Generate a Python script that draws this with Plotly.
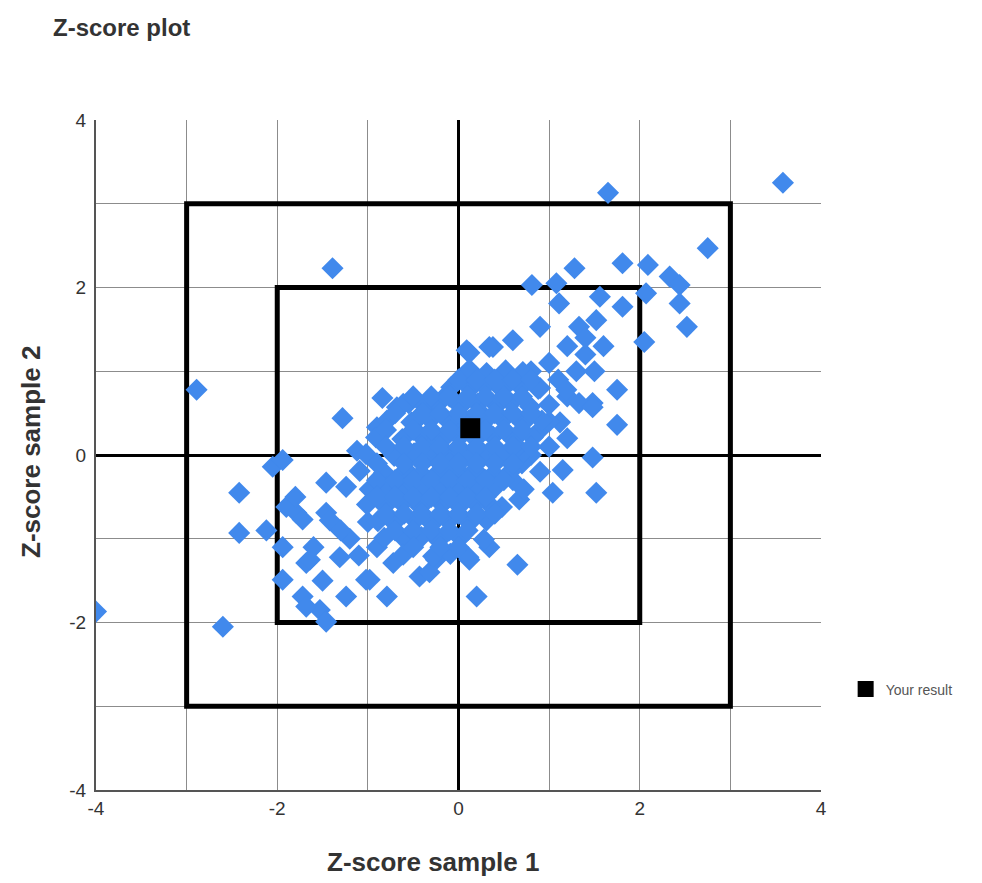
import plotly.graph_objects as go

# ---- data ----
lab_x = [
    # upper-right tail
    1.65, 3.58, 2.75, 1.28, 1.81, 2.09, 2.33, 2.44, 0.81, 1.08, 2.44, 2.52, 2.05, 2.07,
    1.81, 1.56, 1.11, 1.33, 1.52, 0.90, 0.60, 0.38, 0.12, 1.75, 1.48, 1.75, 1.12, 1.48,
    1.15, 1.52, 1.04, 0.67, 1.20, 1.40, 1.30, 1.00, 0.80, 1.10, 0.90, 1.40, 1.60, 1.50,
    0.70, 1.00, 0.80, 1.20, 0.90, 1.00, 0.80, 0.90, 0.60, 0.70, 1.20, 1.00, 1.33, 1.19,
    1.48, 0.34, 0.09,
    # lower / left tail
    -2.89, -1.28, -4.00, -2.60, -2.42, -2.05, -1.94, -2.42, -2.12, -1.90, -1.79, -1.72,
    -1.46, -1.24, -1.46, -1.94, -1.94, -1.68, -1.72, -1.53, -1.46, -1.24, -1.31, -1.02,
    -0.79, -1.42, -1.64, -1.20, -1.00, -1.30, -1.10, -0.90, -1.50, -1.60, -1.80, -1.39,
    0.20, 0.65, 0.34, 0.12, -0.98, -1.68, -0.43, -0.72, -0.25, -0.68, -0.46, -0.90,
    -0.84, -0.55, -0.32, -1.12, -0.32,
    # dense core
    0.12, 0.31, 0.52, 0.71,
    -0.08, 0.13, 0.29, 0.48, 0.69, 0.88,
    -0.61, -0.38, -0.22, 0.02, 0.21, 0.42, 0.58, 0.79,
    -0.79, -0.52, -0.31, -0.09, 0.11, 0.28, 0.49, 0.71, 0.92,
    -0.91, -0.62, -0.41, -0.18, 0.01, 0.19, 0.38, 0.61, 0.82,
    -1.02, -0.71, -0.49, -0.28, -0.12, 0.09, 0.32, 0.51, 0.69,
    -1.09, -0.82, -0.58, -0.41, -0.21, 0.02, 0.18, 0.39, 0.58,
    -0.98, -0.79, -0.61, -0.38, -0.19, -0.02, 0.22, 0.41, 0.72,
    -1.01, -0.81, -0.62, -0.42, -0.18, 0.01, 0.19, 0.48,
    -0.89, -0.71, -0.48, -0.29, -0.11, 0.12, 0.31,
    -0.82, -0.59, -0.41, -0.22, 0.02, 0.28,
    -0.61, -0.28, -0.09, 0.11,
    -0.30, -0.10, 0.05, 0.25, 0.45, 0.55, -0.55, -0.15, 0.35, 0.65,
    # dense core, second layer
    0.00, 0.20, 0.40, 0.60, 0.80,
    -0.50, -0.30, -0.10, 0.10, 0.30, 0.50, 0.70,
    -0.70, -0.40, -0.20, 0.00, 0.20, 0.40, 0.60, 0.80,
    -0.80, -0.50, -0.30, -0.10, 0.10, 0.30, 0.50, 0.70,
    -0.80, -0.60, -0.40, -0.20, 0.00, 0.20, 0.40, 0.60, 0.80,
    -0.90, -0.60, -0.40, -0.20, 0.00, 0.20, 0.40, 0.60,
    -0.90, -0.70, -0.50, -0.30, -0.10, 0.10, 0.30, 0.50,
    -0.90, -0.70, -0.50, -0.30, -0.10, 0.10, 0.30,
    -0.80, -0.60, -0.40, -0.20, 0.00, 0.20, 0.40,
    -0.70, -0.50, -0.30, -0.10, 0.10,
    -0.50, -0.20, 0.00,
]
lab_y = [
    3.13, 3.25, 2.47, 2.23, 2.29, 2.27, 2.13, 2.03, 2.03, 2.05, 1.81, 1.53, 1.35, 1.93,
    1.77, 1.89, 1.81, 1.53, 1.61, 1.53, 1.37, 1.29, 1.22, 0.78, 0.62, 0.36, 0.39, -0.03,
    -0.18, -0.45, -0.45, -0.53, 1.30, 1.20, 1.00, 1.10, 1.00, 0.90, 0.80, 1.40, 1.30, 1.00,
    0.90, 0.60, 0.50, 0.70, 0.30, 0.10, 0.00, -0.20, -0.30, -0.10, 0.20, 0.40, 0.62, 0.78,
    0.57, 1.29, 1.25,
    0.78, 0.44, -1.87, -2.05, -0.45, -0.14, -0.06, -0.93, -0.90, -0.62, -0.69, -0.77,
    -0.33, -0.38, -0.69, -1.10, -1.49, -1.29, -1.69, -1.85, -1.99, -1.69, -1.22, -1.49,
    -1.69, -0.78, -1.25, -1.00, -0.80, -0.90, -1.20, -1.10, -1.50, -1.10, -0.50, 2.23,
    -1.69, -1.31, -1.10, -1.25, -1.49, -1.81, -1.45, -1.29, -1.25, 0.57, 0.42, 0.33,
    0.68, 0.62, 0.55, 0.05, -1.40,
    1.02, 0.98, 1.01, 0.99,
    0.81, 0.79, 0.82, 0.78, 0.81, 0.79,
    0.61, 0.59, 0.62, 0.58, 0.61, 0.59, 0.62, 0.58,
    0.41, 0.39, 0.42, 0.38, 0.41, 0.39, 0.42, 0.38, 0.41,
    0.21, 0.19, 0.22, 0.18, 0.21, 0.19, 0.22, 0.18, 0.21,
    0.01, -0.01, 0.02, -0.02, 0.01, -0.01, 0.02, -0.02, 0.01,
    -0.19, -0.21, -0.18, -0.22, -0.19, -0.21, -0.18, -0.22, -0.19,
    -0.41, -0.39, -0.42, -0.38, -0.41, -0.39, -0.42, -0.38, -0.41,
    -0.59, -0.61, -0.58, -0.62, -0.59, -0.61, -0.58, -0.62,
    -0.79, -0.81, -0.78, -0.82, -0.79, -0.81, -0.78,
    -0.99, -1.01, -0.98, -1.02, -0.99, -1.01,
    -1.19, -1.21, -1.18, -1.22,
    0.10, -0.10, 0.30, 0.50, 0.00, 0.25, -0.30, 0.70, -0.60, 0.10,
    0.90, 0.90, 0.90, 0.90, 0.90,
    0.70, 0.70, 0.70, 0.70, 0.70, 0.70, 0.70,
    0.50, 0.50, 0.50, 0.50, 0.50, 0.50, 0.50, 0.50,
    0.30, 0.30, 0.30, 0.30, 0.30, 0.30, 0.30, 0.30,
    0.10, 0.10, 0.10, 0.10, 0.10, 0.10, 0.10, 0.10, 0.10,
    -0.10, -0.10, -0.10, -0.10, -0.10, -0.10, -0.10, -0.10,
    -0.30, -0.30, -0.30, -0.30, -0.30, -0.30, -0.30, -0.30,
    -0.50, -0.50, -0.50, -0.50, -0.50, -0.50, -0.50,
    -0.70, -0.70, -0.70, -0.70, -0.70, -0.70, -0.70,
    -0.90, -0.90, -0.90, -0.90, -0.90,
    -1.10, -1.10, -1.10,
]

your_x = [0.13]
your_y = [0.32]

limits = [2, 3]
tick_vals = [-4, -3, -2, -1, 0, 1, 2, 3, 4]
tick_text = ["-4", "", "-2", "", "0", "", "2", "", "4"]

FONT = "Liberation Sans, Arial, sans-serif"
W, H = 974, 875          # page body has an 8px offset
L, T = 88, 112
R = W - (821 - 8)
B = H - (790 - 8)
PW, PH = 725, 670

fig = go.Figure()
fig.add_trace(go.Scatter(
    x=lab_x, y=lab_y, mode="markers", showlegend=False,
    marker=dict(symbol="diamond", size=17, color="#4189ec", line=dict(width=0)),
    hoverinfo="x+y",
))
fig.add_trace(go.Scatter(
    x=your_x, y=your_y, mode="markers", name="Your result",
    marker=dict(symbol="square", size=20, color="black", line=dict(width=0)),
))

for lim in limits:
    fig.add_shape(type="rect", xref="x", yref="y", x0=-lim, x1=lim, y0=-lim, y1=lim,
                  line=dict(color="black", width=5), layer="between")

axis_common = dict(
    range=[-4, 4], tickvals=tick_vals, ticktext=tick_text,
    showgrid=True, gridcolor="#8c8c8c", gridwidth=1,
    zeroline=True, zerolinecolor="black", zerolinewidth=3,
    showline=True, linecolor="#555555", linewidth=2, mirror=False,
    ticks="", tickfont=dict(family=FONT, size=19, color="#333333"),
    fixedrange=True,
)

fig.update_layout(
    width=W, height=H,
    margin=dict(l=L, r=R, t=T, b=B),
    paper_bgcolor="white", plot_bgcolor="white",
    title=dict(text="<b>Z-score plot</b>", x=45 / W, xanchor="left", y=1 - 20 / H,
               yanchor="middle",
               font=dict(family=FONT, size=24, color="#333333")),
    xaxis=dict(axis_common),
    yaxis=dict(axis_common, ticklabelstandoff=4),
    legend=dict(x=1.034, y=0.15, xanchor="left", yanchor="middle",
                font=dict(family=FONT, size=14, color="#555555"),
                bgcolor="rgba(0,0,0,0)"),
    annotations=[
        dict(text="<b>Z-score sample 1</b>", xref="paper", yref="paper",
             x=(433 - 96) / PW, y=-(862 - 790) / PH, xanchor="center", yanchor="middle",
             showarrow=False, font=dict(family=FONT, size=26, color="#333333")),
        dict(text="<b>Z-score sample 2</b>", xref="paper", yref="paper",
             x=-(96 - 31) / PW, y=(790 - 452) / PH, xanchor="center", yanchor="middle",
             textangle=-90, showarrow=False,
             font=dict(family=FONT, size=26, color="#333333")),
    ],
)

fig.write_html("out.html")
